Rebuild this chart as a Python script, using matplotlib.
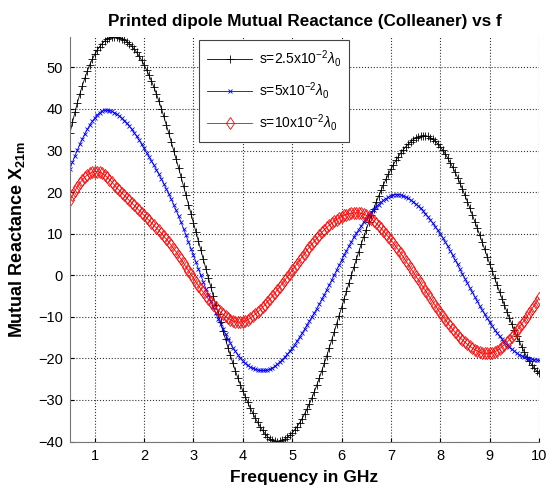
import numpy as np
import matplotlib
matplotlib.use("Agg")
import matplotlib.pyplot as plt

plt.rcParams['font.family'] = ['Liberation Sans', 'DejaVu Sans']
plt.rcParams['mathtext.fontset'] = 'custom'
plt.rcParams['mathtext.rm'] = 'Liberation Sans'
plt.rcParams['mathtext.it'] = 'Liberation Sans:italic'
plt.rcParams['mathtext.bf'] = 'Liberation Sans:bold'

# frequency samples (GHz)
freq = np.round(np.linspace(0.5, 10.0, 191), 2)

# s = 2.5e-2 lambda0
x21_s25 = [
    34.2, 36.8, 39.2, 41.5, 43.6, 45.6, 47.4, 49.1, 50.6, 51.9,
    53.1, 54.1, 55.0, 55.7, 56.3, 56.8, 57.1, 57.3, 57.3, 57.2,
    57.1, 56.9, 56.6, 56.2, 55.7, 55.1, 54.4, 53.6, 52.7, 51.7,
    50.6, 49.4, 48.1, 46.7, 45.2, 43.6, 41.9, 40.1, 38.2, 36.2,
    34.2, 32.1, 30.0, 27.9, 25.8, 23.6, 21.4, 19.2, 17.0, 14.8,
    12.6, 10.4, 8.2, 6.0, 3.8, 1.6, -0.6, -2.8, -5.0, -7.1,
    -9.2, -11.3, -13.4, -15.4, -17.4, -19.3, -21.2, -23.0, -24.7, -26.3,
    -27.8, -29.2, -30.6, -31.9, -33.1, -34.3, -35.4, -36.4, -37.3, -38.1,
    -38.8, -39.3, -39.7, -39.9, -40.0, -39.9, -39.7, -39.4, -39.0, -38.5,
    -37.9, -37.2, -36.4, -35.5, -34.5, -33.4, -32.2, -30.9, -29.5, -28.0,
    -26.4, -24.7, -23.0, -21.2, -19.4, -17.5, -15.6, -13.7, -11.7, -9.7,
    -7.8, -5.8, -3.9, -1.9, 0.0, 1.9, 3.8, 5.7, 7.5, 9.3,
    11.0, 12.7, 14.4, 16.0, 17.5, 19.0, 20.4, 21.8, 23.1, 24.3,
    25.5, 26.6, 27.6, 28.5, 29.4, 30.2, 30.9, 31.5, 32.1, 32.6,
    33.0, 33.3, 33.5, 33.6, 33.6, 33.4, 33.1, 32.7, 32.2, 31.6,
    30.9, 30.1, 29.2, 28.2, 27.1, 26.0, 24.8, 23.5, 22.1, 20.7,
    19.2, 17.7, 16.1, 14.5, 12.9, 11.3, 9.6, 7.9, 6.2, 4.5,
    2.8, 1.1, -0.6, -2.3, -4.0, -5.6, -7.2, -8.8, -10.3, -11.8,
    -13.2, -14.6, -15.9, -17.2, -18.4, -19.6, -20.6, -21.5, -22.3, -23.0,
    -23.6,
]

# s = 5e-2 lambda0
x21_s5 = [
    25.6, 27.2, 28.7, 30.1, 31.5, 32.8, 34.0, 35.1, 36.1, 37.0,
    37.8, 38.5, 39.1, 39.5, 39.7, 39.7, 39.6, 39.4, 39.1, 38.7,
    38.3, 37.8, 37.2, 36.6, 35.9, 35.1, 34.3, 33.4, 32.5, 31.5,
    30.5, 29.5, 28.5, 27.5, 26.5, 25.4, 24.3, 23.2, 22.0, 20.8,
    19.6, 18.3, 17.0, 15.6, 14.2, 12.7, 11.2, 9.6, 8.0, 6.4,
    4.8, 3.2, 1.6, 0.0, -1.6, -3.2, -4.7, -6.2, -7.7, -9.1,
    -10.5, -11.8, -13.0, -14.2, -15.3, -16.4, -17.4, -18.3, -19.1, -19.9,
    -20.6, -21.2, -21.7, -22.1, -22.4, -22.6, -22.8, -22.9, -22.9, -22.9,
    -22.8, -22.6, -22.3, -21.9, -21.4, -20.9, -20.3, -19.7, -19.0, -18.3,
    -17.5, -16.7, -15.8, -14.9, -14.0, -13.0, -12.0, -11.0, -10.0, -9.0,
    -8.0, -6.9, -5.8, -4.7, -3.5, -2.3, -1.2, 0.0, 1.2, 2.4,
    3.6, 4.8, 5.9, 7.0, 8.1, 9.1, 10.1, 11.0, 11.9, 12.8,
    13.6, 14.4, 15.1, 15.8, 16.4, 17.0, 17.5, 18.0, 18.4, 18.8,
    19.1, 19.3, 19.4, 19.4, 19.3, 19.1, 18.8, 18.5, 18.1, 17.7,
    17.2, 16.7, 16.1, 15.5, 14.8, 14.1, 13.3, 12.5, 11.7, 10.8,
    9.9, 9.0, 8.0, 7.0, 5.9, 4.8, 3.7, 2.6, 1.4, 0.3,
    -0.8, -1.9, -3.0, -4.1, -5.2, -6.3, -7.4, -8.4, -9.4, -10.4,
    -11.3, -12.2, -13.1, -13.9, -14.7, -15.4, -16.1, -16.7, -17.3, -17.8,
    -18.3, -18.7, -19.1, -19.4, -19.7, -19.9, -20.1, -20.2, -20.3, -20.4,
    -20.4,
]

# s = 10e-2 lambda0
x21_s10 = [
    18.0, 19.2, 20.3, 21.3, 22.2, 22.9, 23.6, 24.1, 24.5, 24.8,
    24.9, 24.9, 24.8, 24.5, 24.1, 23.6, 23.0, 22.4, 21.7, 21.0,
    20.4, 19.8, 19.2, 18.6, 18.0, 17.4, 16.8, 16.2, 15.6, 15.0,
    14.4, 13.8, 13.2, 12.6, 12.0, 11.4, 10.8, 10.1, 9.4, 8.7,
    8.0, 7.2, 6.4, 5.6, 4.7, 3.8, 2.9, 2.0, 1.1, 0.2,
    -0.7, -1.6, -2.5, -3.3, -4.1, -4.9, -5.7, -6.4, -7.1, -7.7,
    -8.3, -8.9, -9.4, -9.9, -10.3, -10.7, -11.0, -11.2, -11.3, -11.3,
    -11.2, -11.0, -10.7, -10.3, -9.9, -9.4, -8.9, -8.3, -7.7, -7.1,
    -6.4, -5.7, -5.0, -4.3, -3.5, -2.8, -2.0, -1.2, -0.4, 0.4,
    1.2, 2.0, 2.8, 3.6, 4.4, 5.2, 6.0, 6.8, 7.5, 8.2,
    8.9, 9.6, 10.3, 10.9, 11.5, 12.0, 12.5, 13.0, 13.4, 13.8,
    14.1, 14.4, 14.6, 14.8, 14.9, 15.0, 15.0, 15.0, 14.9, 14.7,
    14.4, 14.0, 13.6, 13.1, 12.5, 11.9, 11.3, 10.6, 9.9, 9.2,
    8.5, 7.7, 6.9, 6.1, 5.3, 4.4, 3.5, 2.6, 1.7, 0.8,
    -0.1, -1.0, -1.9, -2.8, -3.7, -4.6, -5.5, -6.4, -7.3, -8.2,
    -9.1, -9.9, -10.7, -11.5, -12.3, -13.0, -13.7, -14.4, -15.0, -15.6,
    -16.1, -16.6, -17.1, -17.5, -17.9, -18.2, -18.5, -18.7, -18.8, -18.8,
    -18.7, -18.6, -18.4, -18.1, -17.7, -17.2, -16.7, -16.1, -15.5, -14.8,
    -14.1, -13.3, -12.5, -11.7, -10.9, -10.0, -9.1, -8.2, -7.3, -6.4,
    -5.5,
]

labels = [r's=2.5x10$^{-2}$$\lambda_0$', r's=5x10$^{-2}$$\lambda_0$', r's=10x10$^{-2}$$\lambda_0$']
xticks = [1, 2, 3, 4, 5, 6, 7, 8, 9, 10]
yticks = [-40, -30, -20, -10, 0, 10, 20, 30, 40, 50]

fig = plt.figure(figsize=(5.49, 4.94), dpi=100)
ax = fig.add_axes([0.1275, 0.1053, 0.8543, 0.8198])

ax.plot(freq, x21_s25, color='black', lw=0.6, marker='+', ms=6, mew=0.6, label=labels[0])
ax.plot(freq, x21_s5, color='#0000ff', lw=0.6, marker='x', ms=3.5, mew=0.6, label=labels[1])
ax.plot(freq, x21_s10, color='#ff0000', lw=0.6, marker='d', ms=6.5, mew=0.6,
        mfc='none', label=labels[2])

ax.set_xlim(0.5, 10)
ax.set_ylim(-40.1, 57.3)
ax.set_xticks(xticks)
ax.set_yticks(yticks)
ax.tick_params(direction='in', length=3, labelsize=10.5, colors='black', pad=5)
ax.grid(True, linestyle=':', color='#333333', linewidth=0.8)
ax.set_axisbelow(True)
for s in ['top', 'right']:
    ax.spines[s].set_visible(False)
for s in ['left', 'bottom']:
    ax.spines[s].set_color('#777777')
    ax.spines[s].set_linewidth(0.8)

ax.set_title('Printed dipole Mutual Reactance (Colleaner) vs f', fontsize=12.3,
             fontweight='bold', pad=8)
ax.set_xlabel('Frequency in GHz', fontsize=12.5, fontweight='bold', labelpad=5)
ax.set_ylabel(r'Mutual Reactance X$_{\mathbf{21m}}$', fontsize=13, fontweight='bold', labelpad=8)

leg = ax.legend(loc='upper left', bbox_to_anchor=(0.275, 0.993), borderaxespad=0,
                numpoints=1, fancybox=False, framealpha=1, edgecolor='#444444',
                fontsize=10, handlelength=3.2, labelspacing=0.8, borderpad=0.6,
                handletextpad=0.5)
leg.get_frame().set_linewidth(0.8)

fig.savefig('out.png', dpi=100)
